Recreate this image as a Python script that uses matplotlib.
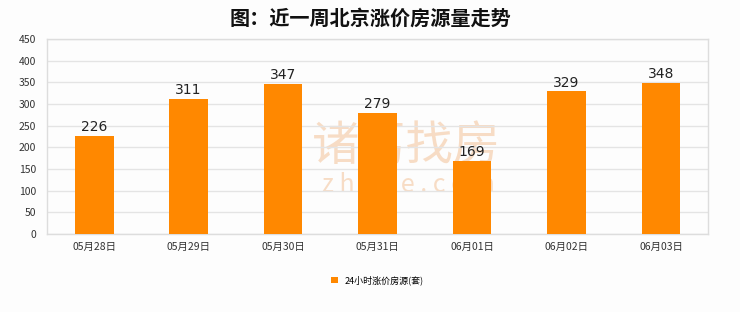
import matplotlib.pyplot as plt
import numpy as np

plt.rcParams['font.family'] = ['Noto Sans CJK SC', 'DejaVu Sans']

dates = ["05月28日", "05月29日", "05月30日", "05月31日", "06月01日", "06月02日", "06月03日"]
counts = [226, 311, 347, 279, 169, 329, 348]
series_name = "24小时涨价房源(套)"
title = "图：近一周北京涨价房源量走势"

BAR_COLOR = "#ff8800"

fig = plt.figure(figsize=(7.4, 3.12), dpi=100)
fig.patch.set_facecolor("#fdfdfd")
ax = fig.add_axes([0.0635, 0.25, 0.8935, 0.625])
ax.set_facecolor("#fdfdfd")

x = np.arange(len(dates))
bars = ax.bar(x, counts, width=0.41, color=BAR_COLOR, zorder=3, label=series_name)

for xi, v in zip(x, counts):
    ax.text(xi, v + 4, str(v), ha="center", va="bottom", fontsize=10,
            family="DejaVu Sans", color="#222222", zorder=4)

ax.set_xlim(-0.5, len(dates) - 0.5)
ax.set_ylim(0, 450)
ax.set_yticks(np.arange(0, 451, 50))
ax.set_xticks(x)
ax.set_xticklabels(dates)
ax.tick_params(axis="both", length=0, labelsize=7.5, colors="#333333")
ax.tick_params(axis="x", pad=6)
ax.tick_params(axis="y", pad=8)
ax.grid(axis="y", color="#e4e4e4", linewidth=1, zorder=0)
for s in ax.spines.values():
    s.set_color("#dddddd")
    s.set_linewidth(1)

# watermark, behind the bars
ax.text(0.544, 0.45, "诸葛找房", transform=ax.transAxes, ha="center", va="center",
        fontsize=34, color="#f5cfae", alpha=0.7, zorder=1)
ax.text(0.546, 0.25, "z h u g e . c o m", transform=ax.transAxes, ha="center",
        va="center", fontsize=18, color="#f5cfae", alpha=0.7, zorder=1)

fig.suptitle(title, y=0.975, fontsize=14.5, fontweight="bold", color="#111111")

ax.legend(loc="upper center", bbox_to_anchor=(0.5, -0.17), frameon=False,
          fontsize=6.5, handlelength=0.7, handleheight=0.7, handletextpad=0.8)

fig.savefig("out.png", dpi=100, facecolor=fig.get_facecolor())
